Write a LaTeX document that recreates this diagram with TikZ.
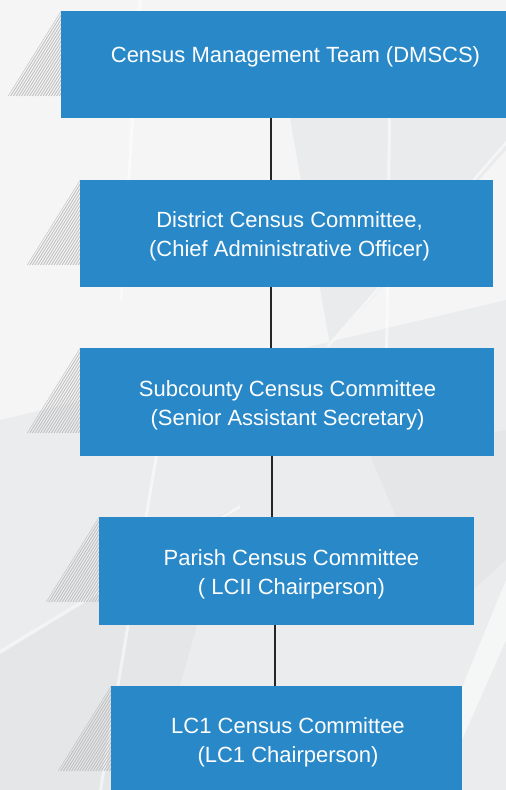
\documentclass[tikz,border=0pt]{standalone}
\usepackage{fontspec}
\setmainfont{Liberation Sans}
\definecolor{boxblue}{RGB}{40,136,200}
\definecolor{linkgray}{RGB}{38,38,38}
\definecolor{hatchgray}{RGB}{192,192,192}
\definecolor{bgtop}{RGB}{245,245,245}
\definecolor{bgbottom}{RGB}{227,229,231}
\definecolor{facetgray}{RGB}{218,222,226}
\begin{document}
\begin{tikzpicture}[x=1pt,y=-1pt,
  unitbox/.style={fill=boxblue, draw=none, inner sep=0pt, anchor=north west},
  unittext/.style={text=white, font=\fontsize{22}{29.5}\selectfont, align=center, inner sep=0pt},
  link/.style={draw=linkgray, line width=2.9pt},
  hatchline/.style={draw=hatchgray, line width=0.9pt},
  facet/.style={fill=facetgray, draw=none, opacity=0.4},
  gleam/.style={fill=white, draw=none, opacity=0.55}]
\useasboundingbox (0,0) rectangle (506,790);

% soft grey backdrop with a few faint facets
\fill[bgtop] (0,0) rectangle (506,790);
\fill[bgbottom, opacity=0.55] (0,420) -- (506,300) -- (506,790) -- (0,790) -- cycle;
\fill[facet] (290,118) -- (506,118) -- (506,150) -- (330,345) -- cycle;
\fill[facet] (0,652) -- (230,510) -- (150,790) -- (0,790) -- cycle;
\fill[facet] (370,455) -- (506,430) -- (506,560) -- (440,620) -- cycle;
\fill[gleam] (138,0) -- (142,0) -- (122,300) -- (120,300) -- cycle;
\fill[gleam] (388,118) -- (391,118) -- (388,360) -- (385,360) -- cycle;
\fill[gleam] (327,345) -- (506,141) -- (506,145) -- (329,347) -- cycle;
\fill[gleam] (155,455) -- (158,455) -- (102,790) -- (99,790) -- cycle;
\fill[gleam] (0,650) -- (240,505) -- (240,508) -- (0,654) -- cycle;
\fill[gleam] (506,580) -- (506,640) -- (440,790) -- (420,790) -- cycle;

% hatched wedges sitting behind the left edge of each box
\foreach \bx/\by in {61/11, 80/180, 80/348, 99/517, 111/686}{
  \begin{scope}
    \clip (\bx,\by) -- (\bx-53,\by+85) -- (\bx+5,\by+85) -- (\bx+5,\by) -- cycle;
    \foreach \k in {-2,...,22}
      \draw[hatchline] (\bx-53+\k*2.7,\by+85) -- ++(53,-85);
  \end{scope}
}

% the five committee boxes
\node[unitbox, minimum width=445pt, minimum height=107pt] (b1) at (61,11) {};
\node[unitbox, minimum width=413pt, minimum height=107pt] (b2) at (80,180) {};
\node[unitbox, minimum width=414pt, minimum height=108pt] (b3) at (80,348) {};
\node[unitbox, minimum width=375pt, minimum height=108pt] (b4) at (99,517) {};
\node[unitbox, minimum width=351pt, minimum height=112pt] (b5) at (111,686) {};

% box labels
\node[unittext, anchor=base] (t1) at (295.5,62) {Census Management Team (DMSCS)};
\node[unittext] (t2) at (289.5,236.2) {District Census Committee,\\(Chief Administrative Officer)};
\node[unittext] (t3) at (287.5,405.2) {Subcounty Census Committee\\(Senior Assistant Secretary)};
\node[unittext] (t4) at (291.5,574.2) {Parish Census Committee\\( LCII Chairperson)};
\node[unittext] (t5) at (288,742.2) {LC1 Census Committee\\(LC1 Chairperson)};

% reporting lines
\coordinate (x1) at (271,0);
\coordinate (x2) at (271,0);
\coordinate (x3) at (272,0);
\coordinate (x4) at (275,0);
\draw[link] (b1.south -| x1) -- (b2.north -| x1);
\draw[link] (b2.south -| x2) -- (b3.north -| x2);
\draw[link] (b3.south -| x3) -- (b4.north -| x3);
\draw[link] (b4.south -| x4) -- (b5.north -| x4);
\end{tikzpicture}
\end{document}
